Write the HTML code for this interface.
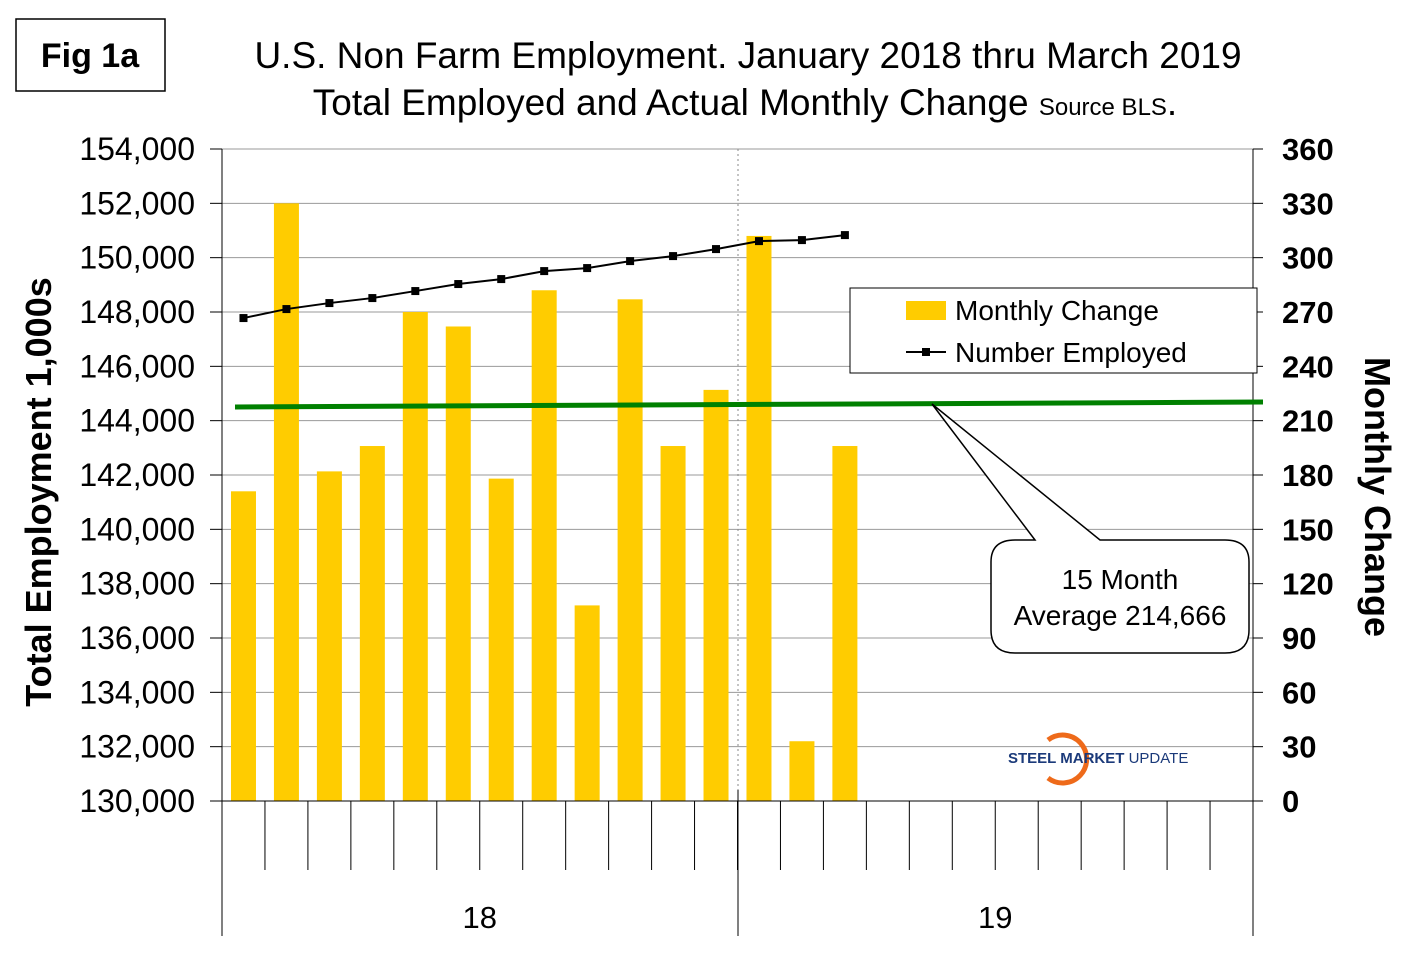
<!DOCTYPE html>
<html><head><meta charset="utf-8"><style>
body{margin:0;background:#fff;}
svg{display:block;font-family:"Liberation Sans",Arial,sans-serif;}
</style></head><body>
<svg id="c" width="1420" height="971" viewBox="0 0 1420 971">
<rect x="16" y="19" width="149" height="72" fill="#fff" stroke="#000" stroke-width="1.5"/>
<text x="90" y="67" font-size="34" font-weight="bold" text-anchor="middle">Fig 1a</text>
<text x="748" y="68" font-size="37" text-anchor="middle">U.S. Non Farm Employment. January 2018 thru March 2019</text>
<text x="745" y="115" font-size="37" text-anchor="middle">Total Employed and Actual Monthly Change <tspan font-size="24">Source BLS</tspan>.</text>
<g id="grid"></g>
<g id="bars"></g>
<g id="axes"></g>
<line x1="235" y1="407" x2="1263" y2="402" stroke="#008000" stroke-width="5"/>
<g id="line"></g>
<text x="51" y="492" font-size="36" font-weight="bold" text-anchor="middle" transform="rotate(-90 51 492)">Total Employment 1,000s</text>
<text x="1365" y="497" font-size="36" font-weight="bold" text-anchor="middle" transform="rotate(90 1365 497)">Monthly Change</text>
<g>
<rect x="850" y="288" width="407" height="85" fill="#fff" stroke="#000" stroke-width="1"/>
<rect x="906" y="301" width="40" height="19" fill="#ffcc00"/>
<text x="955" y="320" font-size="28">Monthly Change</text>
<line x1="906" y1="352" x2="946" y2="352" stroke="#000" stroke-width="2"/>
<rect x="922" y="348" width="8" height="8" fill="#000"/>
<text x="955" y="362" font-size="28">Number Employed</text>
</g>
<g>
<path d="M1035 540 L932 404 L1100 540 L1225 540 Q1249 540 1249 562 L1249 630 Q1249 653 1225 653 L1015 653 Q991 653 991 630 L991 562 Q991 540 1015 540 Z" fill="#fff" stroke="#000" stroke-width="1.5"/>
<text x="1120" y="589" font-size="28" text-anchor="middle">15 Month</text>
<text x="1120" y="625" font-size="28" text-anchor="middle">Average 214,666</text>
</g>
<g>
<path d="M1040 740 A24 24 0 1 1 1040 778" fill="none" stroke="#ee6a1a" stroke-width="5" transform="translate(8 0)"/>
<text x="1008" y="763" font-size="15" font-weight="bold" fill="#1b3a7a">STEEL <tspan font-weight="bold">MARKET</tspan> <tspan font-weight="normal">UPDATE</tspan></text>
</g>
</svg>
<script>
const months=["Jan","Feb","Mar","Apr","May","Jun","Jul","Aug","Sep","Oct","Nov","Dec","Jan","Feb","Mar"];
const monthlyChange=[171,330,182,196,270,262,178,282,108,277,196,227,312,33,196];
const employed=[147777,148108,148329,148513,148771,149029,149212,149506,149617,149874,150058,150316,150610,150647,150831];
const leftTicks=[130000,132000,134000,136000,138000,140000,142000,144000,146000,148000,150000,152000,154000];
const rightTicks=[0,30,60,90,120,150,180,210,240,270,300,330,360];
const yearLabels=["18","19"];
const X0=222,X1=1253,Y0=801,Y1=149,N=24,slot=(X1-X0)/N;
const xC=i=>X0+slot*(i+0.5);
const yL=v=>Y0-(v-130000)/24000*(Y0-Y1);
const yR=v=>Y0-v/360*(Y0-Y1);
const NS="http://www.w3.org/2000/svg";
function mk(p,t,a){const e=document.createElementNS(NS,t);for(const k in a)e.setAttribute(k,a[k]);p.appendChild(e);return e;}
const grid=document.getElementById('grid'),bars=document.getElementById('bars'),axes=document.getElementById('axes'),line=document.getElementById('line');
leftTicks.forEach((v,i)=>{
 const y=yL(v);
 const g=mk(grid,'line',{x1:X0,x2:X1,y1:y,y2:y,stroke:'#999','stroke-width':1});
 
 
 mk(axes,'line',{x1:X0-12,x2:X0,y1:y,y2:y,stroke:'#000'});
 const t=mk(axes,'text',{x:195,y:y+11,'font-size':32,'text-anchor':'end'});t.textContent=v.toLocaleString('en-US');
 
 
});
rightTicks.forEach(v=>{
 const y=yR(v);
 mk(axes,'line',{x1:X1,x2:X1+10,y1:y,y2:y,stroke:'#000'});
 const t=mk(axes,'text',{x:1282,y:y+11,'font-size':31,'font-weight':'bold'});t.textContent=v;
 
 
});
mk(grid,'line',{x1:738,x2:738,y1:Y1,y2:Y0,stroke:'#888','stroke-dasharray':'2,3'});
mk(axes,'line',{x1:X0,x2:X0,y1:Y1,y2:936,stroke:'#000'});
mk(axes,'line',{x1:X1,x2:X1,y1:Y1,y2:936,stroke:'#000'});
mk(axes,'line',{x1:738,x2:738,y1:790,y2:936,stroke:'#000'});
mk(axes,'line',{x1:X0,x2:X1,y1:Y0,y2:Y0,stroke:'#000'});
for(let i=1;i<N;i++){const x=X0+slot*i;mk(axes,'line',{x1:x,x2:x,y1:Y0,y2:870,stroke:'#000'});}
yearLabels.forEach((l,i)=>{const t=mk(axes,'text',{x:X0+slot*12*(i+0.5),y:928,'font-size':31,'text-anchor':'middle'});t.textContent=l;
 
 });
monthlyChange.forEach((v,i)=>{
 const r=mk(bars,'rect',{x:xC(i)-12.5,y:yR(v),width:25,height:Y0-yR(v),fill:'#ffcc00'});
 
 
});
const pl=mk(line,'polyline',{points:employed.map((v,i)=>xC(i)+','+yL(v)).join(' '),fill:'none',stroke:'#000','stroke-width':2});


employed.forEach((v,i)=>{const m=mk(line,'rect',{x:xC(i)-4,y:yL(v)-4,width:8,height:8,fill:'#000'});
 
 });
</script>
</body></html>
